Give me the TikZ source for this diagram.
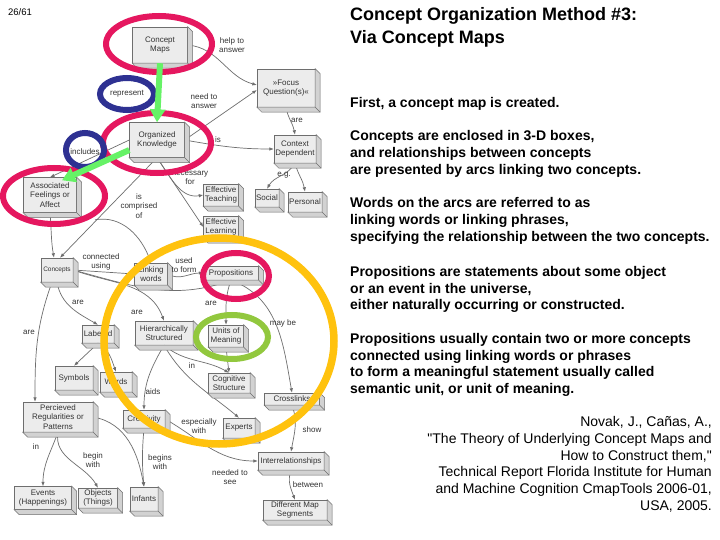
\documentclass[tikz,border=0pt]{standalone}
\usepackage{fontspec}
\setmainfont{Liberation Sans}
\newfontfamily\citefam{Liberation Sans}[Ligatures=ResetAll]
\usepackage{tikz}
\usetikzlibrary{positioning}
\usetikzlibrary{calc,arrows.meta}
\definecolor{cm-text}{HTML}{333333}
\definecolor{cm-line}{HTML}{6E6E6E}
\definecolor{cm-box}{HTML}{ECECEC}
\definecolor{cm-side}{HTML}{D2D2D2}
\definecolor{cm-red}{HTML}{E5175F}
\definecolor{cm-blue}{HTML}{2E3192}
\definecolor{cm-lime}{HTML}{92C83E}
\definecolor{cm-green}{HTML}{66F266}
\definecolor{cm-gold}{HTML}{FFC20E}
\newcommand{\mapfont}{\fontsize{8}{9.5}\selectfont}
\newcommand{\titlefont}{\fontsize{18}{22.5}\selectfont\bfseries}
\newcommand{\bodyfont}{\fontsize{14}{16.7}\selectfont\bfseries}
\newcommand{\citefont}{\citefam\fontsize{14}{16.7}\selectfont}

\begin{document}
\begin{tikzpicture}[
    x=1pt, y=1pt,
    >={Latex[length=4.5pt,width=3.5pt]}
  ]

  % Global Style Definitions
  \tikzset{
    concept/.style={draw=cm-line, fill=cm-box, text=cm-text, font=\mapfont, align=center, inner sep=1pt},
    phrase/.style={text=cm-text, font=\mapfont, align=center, inner sep=0.5pt},
    link/.style={draw=cm-line, line width=0.7pt},
    boxside/.style={draw=cm-line, fill=cm-side, line width=0.5pt},
    ring/.style={line width=6pt},
    fatarrow/.style={cm-green, line width=6pt, -{Triangle[length=13pt,width=15pt]}},
    heading/.style={anchor=north west, inner sep=0pt, align=left, font=\titlefont},
    para/.style={anchor=north west, inner sep=0pt, align=left, font=\bodyfont}
  }

  \fill[white] (0,0) rectangle (720,-540);
  \useasboundingbox (0,0) rectangle (720,-540);

  % Slide number
  \node (pagenum) [font=\fontsize{9.5}{11}\selectfont] at (20,-12) {26/61};

  % Concept boxes
  \node (cmap) [concept, minimum width=55pt, minimum height=36pt] at (160,-45) {Concept\\Maps};
  \node (focus) [concept, minimum width=58pt, minimum height=38pt] at (286,-88) {»Focus\\Question(s)«};
  \node (okn) [concept, minimum width=55pt, minimum height=35pt] at (157,-140) {Organized\\Knowledge};
  \node (ctxdep) [concept, minimum width=42pt, minimum height=28pt] at (295,-149) {Context\\Dependent};
  \node (social) [concept, minimum width=24pt, minimum height=18pt] at (267,-198) {Social};
  \node (personal) [concept, minimum width=34pt, minimum height=20pt] at (305,-202) {Personal};
  \node (effteach) [concept, minimum width=35pt, minimum height=22pt] at (221,-195) {Effective\\Teaching};
  \node (efflearn) [concept, minimum width=35pt, minimum height=22pt] at (221,-227) {Effective\\Learning};
  \node (assoc) [concept, minimum width=53pt, minimum height=35pt] at (50,-195) {Associated\\Feelings or\\Affect};
  \node (concepts) [concept, minimum width=32pt, minimum height=24pt, font=\fontsize{6.5}{8}\selectfont] at (57,-270) {Concepts};
  \node (linkw) [concept, minimum width=33pt, minimum height=22pt] at (151,-274) {Linking\\words};
  \node (props) [concept, minimum width=55pt, minimum height=14pt] at (231,-273) {Propositions};
  \node (units) [concept, minimum width=35pt, minimum height=22pt] at (226,-336) {Units of\\Meaning};
  \node (hier) [concept, minimum width=58pt, minimum height=24pt] at (164,-333) {Hierarchically\\Structured};
  \node (labeled) [concept, minimum width=32pt, minimum height=18pt] at (98,-334) {Labeled};
  \node (symbols) [concept, minimum width=38pt, minimum height=24pt] at (74,-378) {Symbols};
  \node (words) [concept, minimum width=32pt, minimum height=20pt] at (116,-382) {Words};
  \node (cogstr) [concept, minimum width=42pt, minimum height=20pt] at (229,-383) {Cognitive\\Structure};
  \node (crossl) [concept, minimum width=55pt, minimum height=12pt] at (292,-399) {Crosslinks};
  \node (perceived) [concept, minimum width=70pt, minimum height=30pt] at (58,-417) {Percieved\\Regularities or\\Patterns};
  \node (creat) [concept, minimum width=42pt, minimum height=18pt] at (144,-419) {Creativity};
  \node (experts) [concept, minimum width=32pt, minimum height=20pt] at (239,-428) {Experts};
  \node (interrel) [concept, minimum width=66pt, minimum height=18pt] at (291,-461) {Interrelationships};
  \node (diffmap) [concept, minimum width=64pt, minimum height=20pt] at (295,-510) {Different Map\\Segments};
  \node (events) [concept, minimum width=57pt, minimum height=23pt] at (43,-498) {Events\\(Happenings)};
  \node (objects) [concept, minimum width=39pt, minimum height=20pt] at (98,-498) {Objects\\(Things)};
  \node (infants) [concept, minimum width=28pt, minimum height=24pt] at (144,-499) {Infants};

  % Links between concepts
  \draw[link,->] (cmap.east) to[out=-5,in=165] ([yshift=3pt]focus.west);
  \draw[link,->] (okn.east) -- ([yshift=-2pt]focus.west);
  \draw[link,->] (okn.east) to[out=-10,in=180] (ctxdep.west);
  \draw[link,->] (focus.south) to[out=-80,in=100] (ctxdep.north);
  \draw[link,->] (ctxdep.south) to[out=-120,in=60] (social.north);
  \draw[link,->] (ctxdep.south) to[out=-75,in=100] (personal.north);
  \draw[link,->] (okn.south) -- (efflearn.west);
  \draw[link,->] (okn.south) to[out=-55,in=190] (effteach.west);
  \draw[link,->] (okn.south) -- ([xshift=3pt]concepts.north);
  \draw[link,->] ($(okn.south)!0.62!(concepts.north)$) to[out=10,in=110] (linkw.north);
  \draw[link,->] (okn.west) -- (assoc.north);
  \draw[link,->] (assoc.south) to[out=-85,in=100] ([xshift=-3pt]concepts.north);
  \draw[link,->] (concepts.east) -- (linkw.west);
  \draw[link,->] (linkw.east) to[out=-30,in=180] (props.west);
  \draw[link] (concepts.east) to[out=-15,in=200] (props.south);
  \draw[link,->] (concepts.east) to[out=-20,in=110] (hier.north);
  \draw[link,->] (concepts.south) to[out=-80,in=150] (labeled.north);
  \draw[link,->] ([xshift=-5pt]concepts.south) to[out=-110,in=90] ([xshift=-23pt]perceived.north);
  \draw[link,->] (labeled.south) -- (symbols.north);
  \draw[link,->] (labeled.south) to[out=-30,in=110] (words.north);
  \draw[link,->] (props.south) to[out=-110,in=90] (units.north);
  \draw[link,->] (props.south) to[out=-20,in=100] (crossl.north);
  \draw[link,->] (units.south) -- (cogstr.north);
  \draw[link,->] (hier.south) to[out=-40,in=150] (cogstr.north);
  \draw[link,->] (hier.south) to[out=-120,in=90] (creat.north);
  \draw[link,->] (hier.south) to[out=-60,in=140] (experts.north);
  \draw[link,->] (creat.east) to[out=-30,in=180] (interrel.west);
  \draw[link,->] (crossl.south) to[out=-70,in=80] (interrel.north);
  \draw[link,->] (interrel.south) to[out=-110,in=110] (diffmap.north);
  \draw[link,->] (perceived.south) to[out=-110,in=90] (events.north);
  \draw[link,->] (perceived.south) to[out=-100,in=120] (objects.north);
  \draw[link,->] (perceived.east) to[out=-10,in=100] (infants.north);
  \draw[link,->] (creat.south) to[out=-95,in=95] (infants.north);

  % 3-D depth of the boxes
  \foreach \n in {cmap,focus,okn,ctxdep,social,personal,effteach,efflearn,assoc,concepts,linkw,props,units,hier,labeled,symbols,words,cogstr,crossl,perceived,creat,experts,interrel,diffmap,events,objects,infants}{
    \filldraw[boxside] (\n.north east) -- ++(5pt,-5pt) |- ([shift={(5pt,-5pt)}]\n.south west) -- (\n.south west) -- (\n.south east) -- cycle;
    \draw[boxside] (\n.south east) -- ++(5pt,-5pt);
  }

  % Linking phrases
  \node (represent) [phrase] at (127,-94) {represent};
  \node (includes) [phrase] at (85,-152) {includes};
  \node (helpans) [phrase] at (232,-45) {help to\\answer};
  \node (needans) [phrase] at (204,-101) {need to\\answer};
  \node (islbl) [phrase] at (218,-140) {is};
  \node (arefq) [phrase] at (297,-120) {are};
  \node (eg) [phrase] at (284,-175) {e.g.};
  \node (necfor) [phrase] at (190,-178) {necessary\\for};
  \node (comprised) [phrase] at (139,-206) {is\\comprised\\of};
  \node (connused) [phrase] at (101,-262) {connected\\using};
  \node (usedform) [phrase] at (184,-265) {used\\to form};
  \node (arelab) [phrase] at (78,-302) {are};
  \node (arehier) [phrase] at (137,-312) {are};
  \node (areperc) [phrase] at (29,-332) {are};
  \node (areunits) [phrase] at (211,-303) {are};
  \node (maybe) [phrase] at (283,-323) {may be};
  \node (inlbl) [phrase] at (192,-366) {in};
  \node (aids) [phrase] at (153,-392) {aids};
  \node (espwith) [phrase] at (199,-426) {especially\\with};
  \node (showlbl) [phrase] at (312,-430) {show};
  \node (needsee) [phrase] at (230,-477) {needed to\\see};
  \node (between) [phrase] at (308,-485) {between};
  \node (inpat) [phrase] at (36,-447) {in};
  \node (beginwith) [phrase] at (93,-460) {begin\\with};
  \node (beginswith) [phrase] at (160,-462) {begins\\with};

  % Highlight rings
  \draw[ring, cm-gold, line width=7.5pt] (219,-341) ellipse [x radius=115pt, y radius=103pt];
  \draw[ring, cm-red] (159,-44) ellipse [x radius=53pt, y radius=28pt];
  \draw[ring, cm-red] (157,-143) ellipse [x radius=54pt, y radius=30pt];
  \draw[ring, cm-red] (54,-196) ellipse [x radius=51pt, y radius=28pt];
  \draw[ring, cm-red] (236,-276) ellipse [x radius=33pt, y radius=23pt];
  \draw[ring, cm-blue] (127,-94) ellipse [x radius=27pt, y radius=16pt];
  \draw[ring, cm-blue] (85,-150) ellipse [x radius=19pt, y radius=17pt];
  \draw[ring, cm-lime] (232,-337) ellipse [x radius=36pt, y radius=22pt];

  % Green arrows
  \draw[fatarrow] (cmap.south) -- (okn.north);
  \draw[fatarrow] ([yshift=-10pt]okn.west) -- ([xshift=12pt,yshift=-3pt]assoc.north);

  % Slide text
  \node (title) [heading] at (350,-7.6) {Concept Organization Method \#3:\\Via Concept Maps};
  \node (para1) [para] at (350,-97.5) {First, a concept map is created.};
  \node (para2) [para] at (350,-130.5) {Concepts are enclosed in 3-D boxes,\\and relationships between concepts\\are presented by arcs linking two concepts.};
  \node (para3) [para] at (350,-197.5) {Words on the arcs are referred to as\\linking words or linking phrases,\\specifying the relationship between the two concepts.};
  \node (para4) [para] at (350,-266) {Propositions are statements about some object\\or an event in the universe,\\either naturally occurring or constructed.};
  \node (para5) [para] at (350,-333) {Propositions usually contain two or more concepts\\connected using linking words or phrases\\to form a meaningful statement usually called\\semantic unit, or unit of meaning.};
  \node (cite) [anchor=north east, inner sep=0pt, align=right, font=\citefont] at (712,-416.5) {Novak, J., Cañas, A.,\\"The Theory of Underlying Concept Maps and\\How to Construct them,"\\Technical Report Florida Institute for Human\\and Machine Cognition CmapTools 2006-01,\\USA, 2005.};

\end{tikzpicture}
\end{document}
